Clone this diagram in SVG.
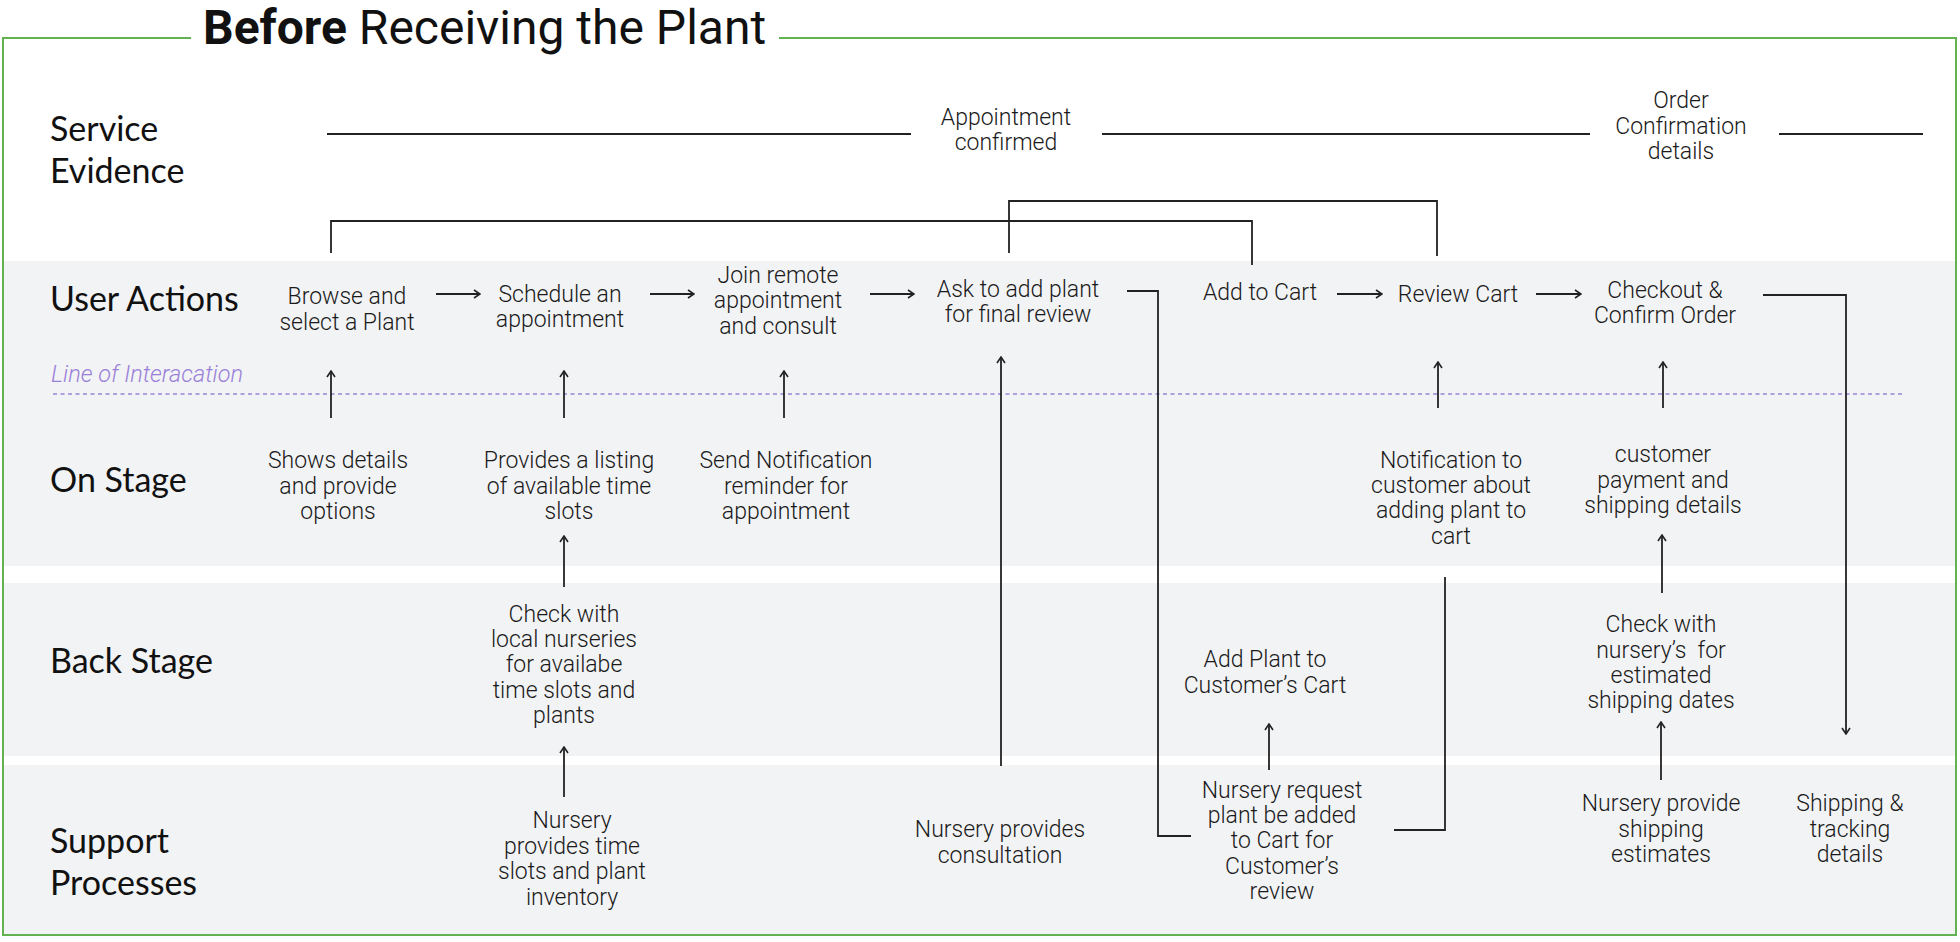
<svg xmlns="http://www.w3.org/2000/svg" width="1960" height="942" viewBox="0 0 1960 942">
<defs>
<style>
.band{fill:#f2f3f5}
.head{font-family:Lato,"Open Sans",sans-serif;font-size:34px;fill:#111}
.t{font-family:Roboto,"Liberation Sans",sans-serif;font-weight:300;font-size:23px;fill:#1a1a1a;text-anchor:middle}
.ln{fill:none;stroke:#222;stroke-width:1.8}
.ar{fill:none;stroke:#222;stroke-width:1.8;marker-end:url(#ah)}
</style>
<marker id="ah" viewBox="0 0 10 10" refX="9" refY="5" markerWidth="10" markerHeight="10" markerUnits="userSpaceOnUse" orient="auto">
<path d="M3,1 L9,5 L3,9" fill="none" stroke="#222" stroke-width="1.6"/>
</marker>
</defs>
<rect width="1960" height="942" fill="#fff"/>
<g id="bands">
<rect class="band" x="4" y="261" width="1952" height="305"/>
<rect class="band" x="4" y="583" width="1952" height="173"/>
<rect class="band" x="4" y="765" width="1952" height="170"/>
</g>
<g id="frame">
<path d="M191 38 H3 V935 H1956 V38 H779" fill="none" stroke="#62b153" stroke-width="2"/>
<text x="203" y="44" font-family="Roboto,'Liberation Sans',sans-serif" font-size="48" fill="#111"><tspan font-weight="700">Before</tspan> Receiving the Plant</text>
</g>
<g id="lanes">
<text class="head" x="50" y="141">Service</text>
<text class="head" x="50" y="183">Evidence</text>
<text class="head" x="50" y="311">User Actions</text>
<text class="head" x="50" y="492">On Stage</text>
<text class="head" x="50" y="673">Back Stage</text>
<text class="head" x="50" y="853">Support</text>
<text class="head" x="50" y="895">Processes</text>
</g>
<g id="line-of-interaction">
<text x="51" y="382" font-family="Roboto,'Liberation Sans',sans-serif" font-weight="300" font-style="italic" font-size="23.5" fill="#9a80d8">Line of Interacation</text>
<line x1="53" y1="394" x2="1904" y2="394" stroke="#9a86d6" stroke-width="1.6" stroke-dasharray="4,3.5"/>
</g>
<g id="connectors">
<line class="ln" x1="327" y1="134" x2="911" y2="134"/>
<line class="ln" x1="1102" y1="134" x2="1590" y2="134"/>
<line class="ln" x1="1779" y1="134" x2="1923" y2="134"/>
<path class="ln" d="M331 253 V221 H1252 V265"/>
<path class="ln" d="M1009 253 V201 H1437 V256"/>
<line class="ar" x1="436" y1="294" x2="480" y2="294"/>
<line class="ar" x1="650" y1="294" x2="694" y2="294"/>
<line class="ar" x1="870" y1="294" x2="914" y2="294"/>
<line class="ar" x1="1337" y1="294" x2="1382" y2="294"/>
<line class="ar" x1="1536" y1="294" x2="1581" y2="294"/>
<path class="ln" d="M1127 291 H1158 V836 H1191"/>
<path class="ar" d="M1763 295 H1846 V734"/>
<line class="ar" x1="331" y1="418" x2="331" y2="371"/>
<line class="ar" x1="564" y1="418" x2="564" y2="371"/>
<line class="ar" x1="784" y1="418" x2="784" y2="371"/>
<line class="ar" x1="1001" y1="766" x2="1001" y2="357"/>
<line class="ar" x1="1438" y1="408" x2="1438" y2="362"/>
<line class="ar" x1="1663" y1="408" x2="1663" y2="362"/>
<line class="ar" x1="564" y1="587" x2="564" y2="536"/>
<line class="ar" x1="1662" y1="593" x2="1662" y2="535"/>
<path class="ln" d="M1445 577 V830 H1394"/>
<line class="ar" x1="564" y1="797" x2="564" y2="747"/>
<line class="ar" x1="1269" y1="770" x2="1269" y2="724"/>
<line class="ar" x1="1661" y1="780" x2="1661" y2="722"/>
</g>
<g id="evidence-appointment"><text class="t" x="1006" y="125">Appointment</text><text class="t" x="1006" y="150">confirmed</text></g>
<g id="evidence-order"><text class="t" x="1681" y="108">Order</text><text class="t" x="1681" y="134">Confirmation</text><text class="t" x="1681" y="159">details</text></g>
<g id="ua-browse"><text class="t" x="347" y="304">Browse and</text><text class="t" x="347" y="330">select a Plant</text></g>
<g id="ua-schedule"><text class="t" x="560" y="302">Schedule an</text><text class="t" x="560" y="327">appointment</text></g>
<g id="ua-join"><text class="t" x="778" y="283">Join remote</text><text class="t" x="778" y="308">appointment</text><text class="t" x="778" y="334">and consult</text></g>
<g id="ua-ask"><text class="t" x="1018" y="297">Ask to add plant</text><text class="t" x="1018" y="322">for final review</text></g>
<g id="ua-add"><text class="t" x="1260" y="300">Add to Cart</text></g>
<g id="ua-review"><text class="t" x="1458" y="302">Review Cart</text></g>
<g id="ua-checkout"><text class="t" x="1665" y="298">Checkout &amp;</text><text class="t" x="1665" y="323">Confirm Order</text></g>
<g id="os-shows"><text class="t" x="338" y="468">Shows details</text><text class="t" x="338" y="494">and provide</text><text class="t" x="338" y="519">options</text></g>
<g id="os-provides"><text class="t" x="569" y="468">Provides a listing</text><text class="t" x="569" y="494">of available time</text><text class="t" x="569" y="519">slots</text></g>
<g id="os-send"><text class="t" x="786" y="468">Send Notification</text><text class="t" x="786" y="494">reminder for</text><text class="t" x="786" y="519">appointment</text></g>
<g id="os-notification"><text class="t" x="1451" y="468">Notification to</text><text class="t" x="1451" y="493">customer about</text><text class="t" x="1451" y="518">adding plant to</text><text class="t" x="1451" y="544">cart</text></g>
<g id="os-payment"><text class="t" x="1663" y="462">customer</text><text class="t" x="1663" y="488">payment and</text><text class="t" x="1663" y="513">shipping details</text></g>
<g id="bs-check"><text class="t" x="564" y="622">Check with</text><text class="t" x="564" y="647">local nurseries</text><text class="t" x="564" y="672">for availabe</text><text class="t" x="564" y="698">time slots and</text><text class="t" x="564" y="723">plants</text></g>
<g id="bs-add"><text class="t" x="1265" y="667">Add Plant to</text><text class="t" x="1265" y="693">Customer’s Cart</text></g>
<g id="bs-shipdates"><text class="t" x="1661" y="632">Check with</text><text class="t" x="1661" y="658" xml:space="preserve">nursery’s  for</text><text class="t" x="1661" y="683">estimated</text><text class="t" x="1661" y="708">shipping dates</text></g>
<g id="sp-inventory"><text class="t" x="572" y="828">Nursery</text><text class="t" x="572" y="854">provides time</text><text class="t" x="572" y="879">slots and plant</text><text class="t" x="572" y="905">inventory</text></g>
<g id="sp-consult"><text class="t" x="1000" y="837">Nursery provides</text><text class="t" x="1000" y="863">consultation</text></g>
<g id="sp-request"><text class="t" x="1282" y="798">Nursery request</text><text class="t" x="1282" y="823">plant be added</text><text class="t" x="1282" y="848">to Cart for</text><text class="t" x="1282" y="874">Customer’s</text><text class="t" x="1282" y="899">review</text></g>
<g id="sp-estimates"><text class="t" x="1661" y="811">Nursery provide</text><text class="t" x="1661" y="837">shipping</text><text class="t" x="1661" y="862">estimates</text></g>
<g id="sp-shipping"><text class="t" x="1850" y="811">Shipping &amp;</text><text class="t" x="1850" y="837">tracking</text><text class="t" x="1850" y="862">details</text></g>
</svg>
